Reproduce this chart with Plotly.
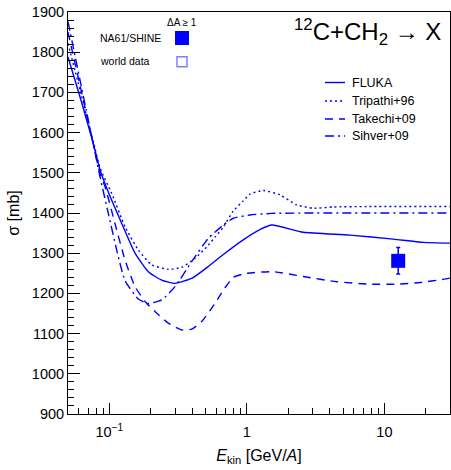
import math
import plotly.graph_objects as go

# ---------------- data ----------------
E_fluka = [0.05, 0.0611, 0.0764, 0.0855, 0.0982, 0.1229, 0.1536, 0.1919, 0.24, 0.30,
           0.40, 0.52, 0.67, 0.94, 1.25, 1.52, 2.57, 5.6, 11.6, 19.2, 30]
sig_fluka = [1788, 1689, 1573, 1507, 1452, 1374, 1300, 1254, 1233, 1225,
             1238, 1266, 1296, 1333, 1359, 1370, 1352, 1345, 1335, 1327, 1325]

E_tripathi = [0.05, 0.0611, 0.0764, 0.0855, 0.1039, 0.1299, 0.1623, 0.2031, 0.2682, 0.3356,
              0.4194, 0.5241, 0.5862, 0.6738, 0.7966, 0.94, 1.053, 1.316, 1.742, 2.303,
              3.04, 4.25, 7.44, 30]
sig_tripathi = [1822, 1706, 1577, 1512, 1449, 1366, 1308, 1271, 1260, 1265,
                1287, 1320, 1340, 1365, 1405, 1430, 1447, 1456, 1445, 1420,
                1412, 1415, 1416, 1416]

E_takechi = [0.05, 0.0611, 0.0764, 0.0855, 0.0929, 0.1098, 0.1299, 0.1536, 0.1815, 0.2147,
             0.2682, 0.3356, 0.3968, 0.469, 0.5862, 0.6738, 0.7966, 0.997, 1.556, 2.57,
             4.5, 7.86, 12.3, 18.2, 26.8, 30]
sig_takechi = [1850, 1718, 1571, 1497, 1466, 1374, 1283, 1217, 1180, 1155,
               1126, 1109, 1111, 1130, 1175, 1208, 1240, 1250, 1254, 1242,
               1229, 1223, 1223, 1227, 1235, 1238]

E_sihver = [0.05, 0.0611, 0.0764, 0.0855, 0.0982, 0.1161, 0.1299, 0.1623, 0.1919, 0.2401,
            0.30, 0.3968, 0.5241, 0.6738, 0.7966, 1.053, 1.515, 30]
sig_sihver = [1876, 1731, 1571, 1490, 1399, 1291, 1232, 1186, 1175, 1184,
              1217, 1279, 1337, 1370, 1387, 1395, 1399, 1400]

E_na61 = [12.6]
sig_na61 = [1281]
err_na61 = [33]

model_names = ["FLUKA", "Tripathi+96", "Takechi+09", "Sihver+09"]
x_tickvals = [0.1, 1, 10]
x_ticktext = ["10<sup>\u22121</sup>", "1", "10"]
x_minor = [0.06, 0.07, 0.08, 0.09, 0.2, 0.3, 0.4, 0.5, 0.6, 0.7, 0.8, 0.9,
           2, 3, 4, 5, 6, 7, 8, 9, 20]

# ---------------- style ----------------
BLUE = "#0000ff"
FONT = "Liberation Sans, Arial, sans-serif"
W, H = 451, 470
L, R, T, B = 68, 1, 12, 56
PW, PH = W - L - R, H - T - B

def px(xp):
    return (xp - L) / PW

def py(yp):
    return (H - B - yp) / PH

dashes = ["solid", "2px,3px", "8px,6px", "9px,4px,2px,4px"]
series = [(E_fluka, sig_fluka), (E_tripathi, sig_tripathi),
          (E_takechi, sig_takechi), (E_sihver, sig_sihver)]

fig = go.Figure()
for (ex, sy), name, d in zip(series, model_names, dashes):
    fig.add_trace(go.Scatter(x=ex, y=sy, mode="lines", name=name, showlegend=False,
                             line=dict(color=BLUE, width=1.4, dash=d, shape="spline",
                                       smoothing=0.5)))

fig.add_trace(go.Scatter(x=E_na61, y=sig_na61, mode="markers", name="NA61/SHINE",
                         showlegend=False,
                         marker=dict(symbol="square", size=14, color=BLUE,
                                     line=dict(width=0)),
                         error_y=dict(type="data", array=err_na61, color=BLUE,
                                      thickness=1.5, width=2)))

shapes = []
annotations = []

# legend of models (top right)
leg_y = [82.5, 101, 119, 136]
for name, d, yy in zip(model_names, dashes, leg_y):
    shapes.append(dict(type="line", xref="paper", yref="paper",
                       x0=px(325), x1=px(345), y0=py(yy), y1=py(yy),
                       line=dict(color=BLUE, width=1.4, dash=d)))
    annotations.append(dict(xref="paper", yref="paper", x=px(350), y=py(yy),
                            text=name, showarrow=False, xanchor="left", yanchor="middle",
                            font=dict(family=FONT, size=12.5, color="black")))

# data legend (top left)
annotations.append(dict(xref="paper", yref="paper", x=px(182), y=py(22.5),
                        text="\u0394A \u2265 1", showarrow=False, xanchor="center",
                        yanchor="middle", font=dict(family=FONT, size=10, color="black")))
annotations.append(dict(xref="paper", yref="paper", x=px(98), y=py(37.5),
                        text="NA61/SHINE", showarrow=False, xanchor="left",
                        yanchor="middle", font=dict(family=FONT, size=10.5, color="black")))
annotations.append(dict(xref="paper", yref="paper", x=px(98), y=py(61),
                        text="world data", showarrow=False, xanchor="left",
                        yanchor="middle", font=dict(family=FONT, size=10.5, color="black")))
shapes.append(dict(type="rect", xref="paper", yref="paper",
                   x0=px(175), x1=px(189), y0=py(45), y1=py(31),
                   fillcolor=BLUE, line=dict(width=0)))
shapes.append(dict(type="rect", xref="paper", yref="paper",
                   x0=px(177), x1=px(187), y0=py(66.7), y1=py(56.7),
                   fillcolor="rgba(0,0,0,0)", line=dict(color="#7f7fff", width=1.5)))

# reaction label
annotations.append(dict(xref="paper", yref="paper", x=px(443), y=py(32),
                        text="<sup>12</sup>C+CH<sub>2</sub> \u2192 X", showarrow=False,
                        xanchor="right", yanchor="middle",
                        font=dict(family=FONT, size=24, color="black")))

fig.update_layout(
    width=W, height=H,
    margin=dict(l=L, r=R, t=T, b=B, pad=0),
    paper_bgcolor="white", plot_bgcolor="white",
    font=dict(family=FONT, size=14.5, color="black"),
    shapes=shapes, annotations=annotations,
    showlegend=False,
)
fig.update_xaxes(
    type="log", range=[math.log10(0.05), math.log10(30)],
    tickmode="array", tickvals=x_tickvals, ticktext=x_ticktext,
    ticks="inside", ticklen=11, tickwidth=1, tickcolor="black",
    ticklabelstandoff=5,
    showline=True, linecolor="black", linewidth=1, mirror=True,
    showgrid=False, zeroline=False,
    tickfont=dict(family=FONT, size=14.5),
    minor=dict(tickmode="array", tickvals=x_minor, ticks="inside", ticklen=6,
               tickwidth=1, tickcolor="black", showgrid=False),
    title=dict(text="<i>E</i><sub>kin</sub> [GeV/<i>A</i>]",
               font=dict(family=FONT, size=16), standoff=10),
)
fig.update_yaxes(
    range=[900, 1900], tick0=900, dtick=100,
    ticks="inside", ticklen=12, tickwidth=1, tickcolor="black",
    showline=True, linecolor="black", linewidth=1, mirror=True,
    showgrid=False, zeroline=False,
    tickfont=dict(family=FONT, size=14.5),
    minor=dict(dtick=20, ticks="inside", ticklen=6, tickwidth=1,
               tickcolor="black", showgrid=False),
    title=dict(text="\u03c3 [mb]", font=dict(family=FONT, size=16), standoff=8),
)

fig.write_html("out.html")
